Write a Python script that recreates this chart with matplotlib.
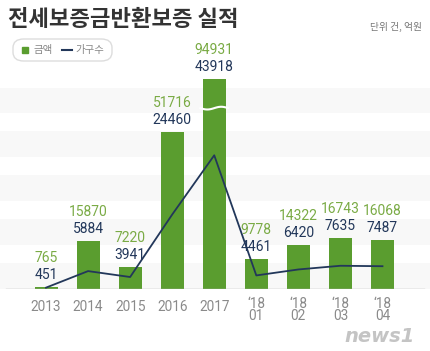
import numpy as np
import matplotlib.pyplot as plt
from matplotlib.patches import FancyBboxPatch, Rectangle

plt.rcParams['font.family'] = ['Roboto', 'Noto Sans CJK KR', 'DejaVu Sans']

# data
labels = ['2013', '2014', '2015', '2016', '2017',
          '\u201818\n01', '\u201818\n02', '\u201818\n03', '\u201818\n04']
amount = [765, 15870, 7220, 51716, 94931, 9778, 14322, 16743, 16068]   # 금액 (억원)
households = [451, 5884, 3941, 24460, 43918, 4461, 6420, 7635, 7487]  # 가구수 (건)

GREEN = '#5a9d2f'
GREEN_TXT = '#7aab45'
NAVY = '#22375a'
GRAY = '#8a8a8a'

ymax = 66000
cap = ymax * 1.045  # broken bar display cap

fig = plt.figure(figsize=(4.3, 3.51), dpi=100)
ax = fig.add_axes([0, 0.1766, 1, 0.5726])
ax.set_xlim(-1.094, 9.13)
ax.set_ylim(0, ymax)
ax.axis('off')

# background bands
for i in range(5):
    lo = i * 0.2189
    ax.axhspan(lo * ymax, (lo + 0.131) * ymax, color='#f8f8f8', zorder=0, lw=0)
ax.axhline(0, xmin=6 / 430, xmax=424 / 430, color='#b5b5b5', lw=1, zorder=3)

x = np.arange(len(labels))
shown = [min(v, cap) for v in amount]
bars = ax.bar(x, shown, width=0.547, color=GREEN, zorder=2, clip_on=False)

# break mark on the tallest bar
for xi, v in zip(x, amount):
    if v > cap:
        wx = np.linspace(xi - 0.33, xi + 0.33, 40)
        wy = 0.90 * ymax + 450 * np.sin((wx - xi) / 0.33 * np.pi)
        ax.plot(wx, wy, color='white', lw=1.5, zorder=4, clip_on=False)

ax.plot(x, households, color=NAVY, lw=1.3, zorder=5, clip_on=False)

for xi, h, a, n in zip(x, shown, amount, households):
    ax.annotate(f'{n}', (xi, h), xytext=(0, 12), textcoords='offset pixels',
                ha='center', va='center', fontsize=10, color=NAVY,
                annotation_clip=False)
    ax.annotate(f'{a}', (xi, h), xytext=(0, 29), textcoords='offset pixels',
                ha='center', va='center', fontsize=10, color=GREEN_TXT,
                annotation_clip=False)

for xi, lb in zip(x, labels):
    ax.annotate(lb, (xi, 0), xytext=(0, -18 if '\n' not in lb else -21),
                textcoords='offset pixels', ha='center', va='center',
                fontsize=9.8, color=GRAY, linespacing=0.9,
                annotation_clip=False)

# title and unit
fig.text(8 / 430, 1 - 20 / 351, '전세보증금반환보증 실적', fontsize=16,
         fontweight='bold', color='#333333', va='center', ha='left',
         family=['Noto Sans CJK KR', 'DejaVu Sans'])
fig.text(422 / 430, 1 - 27 / 351, '단위 건, 억원', fontsize=7, color='#777777',
         va='center', ha='right', family=['Noto Sans CJK KR', 'DejaVu Sans'])

# legend box
box = FancyBboxPatch((13 / 430, 1 - 61 / 351), 99 / 430, 22 / 351,
                     boxstyle='round,pad=0,rounding_size=0.025',
                     transform=fig.transFigure, fc='white', ec='#dddddd', lw=1)
fig.patches.append(box)
fig.patches.append(Rectangle((22 / 430, 1 - 53 / 351), 6 / 430, 6 / 351,
                             transform=fig.transFigure, color=GREEN))
fig.text(33 / 430, 1 - 50 / 351, '금액', fontsize=7.5, color='#888888', va='center',
         family=['Noto Sans CJK KR', 'DejaVu Sans'])
fig.lines.append(plt.Line2D([62 / 430, 72 / 430], [1 - 50 / 351, 1 - 50 / 351],
                            transform=fig.transFigure, color=NAVY, lw=1.5))
fig.text(75 / 430, 1 - 50 / 351, '가구수', fontsize=7.5, color='#888888', va='center',
         family=['Noto Sans CJK KR', 'DejaVu Sans'])

# watermark
fig.text(415 / 430, 1 - 337 / 351, 'news1', fontsize=14, fontweight='bold',
         style='italic', color='#c4c4c4', ha='right', va='center',
         family=['DejaVu Sans'])

fig.savefig('out.png', dpi=100)
